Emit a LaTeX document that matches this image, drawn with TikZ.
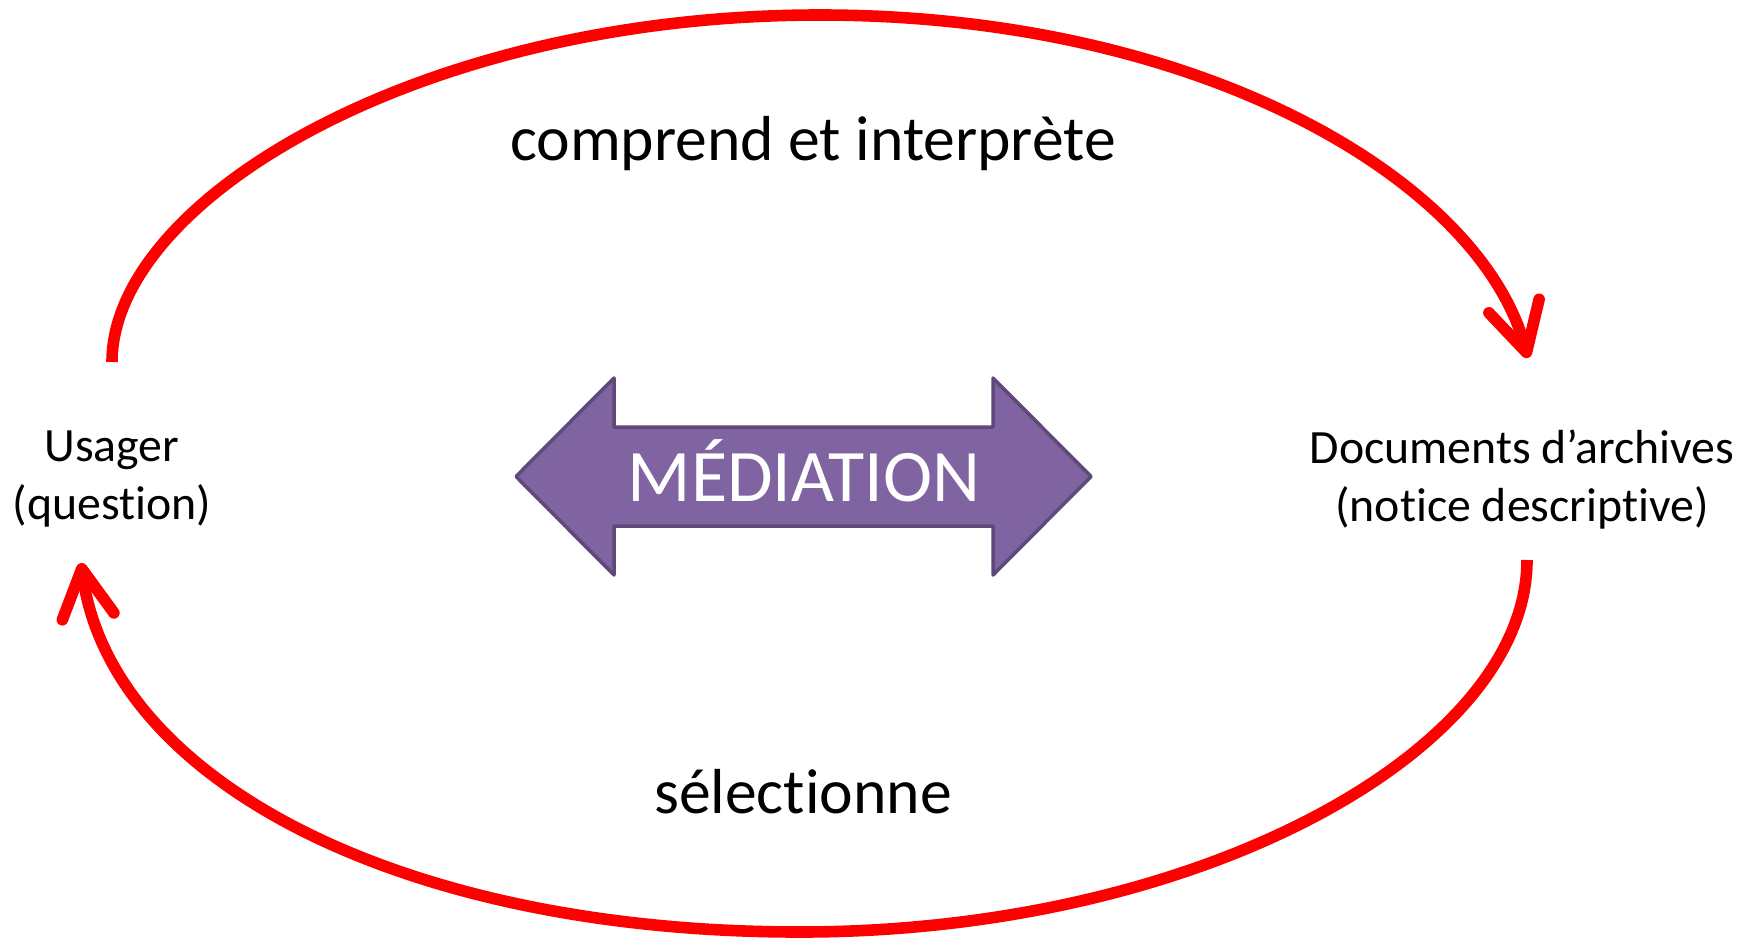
\documentclass[tikz,border=0pt]{standalone}
\usepackage{fontspec}
\setmainfont{Carlito}[RawFeature={-liga;-rlig;-clig;-calt;-dlig;-hlig}]
\usetikzlibrary{arrows.meta}
\definecolor{medfill}{RGB}{128,100,162}
\definecolor{meddraw}{RGB}{94,74,122}

\begin{document}
\begin{tikzpicture}[x=0.1mm,y=-0.1mm]
\tikzstyle{every node}=[inner sep=0pt, align=center]
\tikzstyle{actor}=[font=\fontsize{13.6}{16.5}\selectfont]
\tikzstyle{action}=[font=\fontsize{18.1}{21.8}\selectfont, anchor=base]
\tikzstyle{loop}=[draw=red, line width=3.3pt, -{Straight Barb[length=4.8mm,width=5.2mm,round]}]
\useasboundingbox (0,0) rectangle (1757,943);
\draw (112,479) node (usager) [actor] {Usager\\(question)};
\draw (1522,479) node (docs) [actor] {Documents d’archives\\(notice descriptive)};
\draw (813,160) node (comprend) [action] {comprend et interprète};
\draw (803,813) node (selection) [action] {sélectionne};
% double fleche
\draw[fill=medfill, draw=meddraw, line width=1pt, line join=round]
  (516,476.5) -- (614,378) -- (614,427) -- (993,427) -- (993,378) -- (1091,476.5)
  -- (993,575) -- (993,526) -- (614,526) -- (614,575) -- cycle;
\draw (804,501) node (med) [anchor=base, text=white, font=\fontsize{21.1}{24}\selectfont] {MÉDIATION};
\coordinate (usager-out) at (112,362);
\coordinate (docs-in) at (1528,358);
\coordinate (docs-out) at (1527,560);
\coordinate (usager-in) at (81,563);
\draw[loop] (usager-out) .. controls (112,200) and (420,15) .. (820,15)
  .. controls (1200,15) and (1480,180) .. (docs-in);
\draw[loop] (docs-out) .. controls (1527,750) and (1200,932) .. (800,932)
  .. controls (400,932) and (110,780) .. (usager-in);
\end{tikzpicture}
\end{document}
